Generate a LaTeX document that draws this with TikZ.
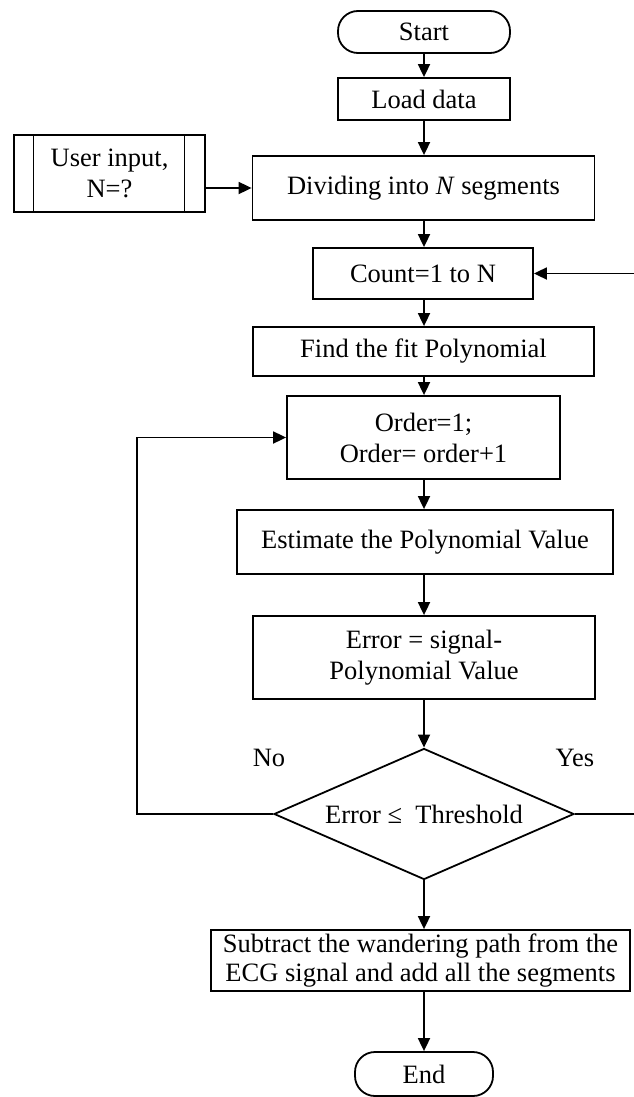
\documentclass[tikz,border=0pt]{standalone}
\usepackage{fontspec}
\setmainfont{Liberation Serif}
\usetikzlibrary{shapes.geometric,arrows.meta}

\begin{document}
\begin{tikzpicture}
			[
				x=10pt, y=-10pt,
				font=\fontsize{26.5}{31}\selectfont,
				align=center,
				line width=1.8pt,
				box/.style={draw, rectangle, inner sep=0pt},
				term/.style={draw, rectangle, rounded corners=20pt, inner sep=0pt, minimum width=172pt, minimum height=42pt},
				decision/.style={draw, diamond, aspect=2.3, inner sep=0pt, minimum width=300pt, minimum height=131pt},
				branchlabel/.style={draw=none, fill=none},
				arrow/.style={-{Triangle[length=13pt,width=12pt]}, line width=1.8pt}
			]

			\useasboundingbox (0,0) rectangle (63.3,109.7);

			% blocks
			\node[term] (start) at ( 42.4,   3.2 ) {Start};
			\node[box, minimum width=172pt, minimum height=42pt] (load) at ( 42.4,   9.9 ) {Load data};
			\node[box, minimum width=342pt, minimum height=64pt] (divide) at ( 42.35, 18.8 ) {Dividing into \textit{N} segments};
			\node[box, minimum width=191pt, minimum height=77pt] (user) at ( 10.95, 17.35) {User input,\\N=?};
			\node[box, minimum width=220pt, minimum height=51pt] (count) at ( 42.3,  27.35) {Count=1 to N};
			\node[box, minimum width=341pt, minimum height=49pt] (fit) at ( 42.35, 35.15) {Find the fit Polynomial};
			\node[box, minimum width=273pt, minimum height=83pt] (order) at ( 42.35, 43.75) {Order=1;\\Order= order+1};
			\node[box, minimum width=376pt, minimum height=64pt] (estimate) at ( 42.5,  54.2 ) {Estimate the Polynomial Value};
			\node[box, minimum width=342pt, minimum height=83pt] (error) at ( 42.4,  65.75) {Error = signal-\\Polynomial Value};
			\node[decision] (check) at ( 42.4,  81.4 ) {Error ≤ \ Threshold};
			\node[box, minimum width=419pt, minimum height=61pt, font=\fontsize{26.5}{29}\selectfont] (subtract) at ( 42.05, 96.05) {Subtract the wandering path from the\\ECG signal and add all the segments};
			\node[term, minimum width=138pt, minimum height=44pt] (stop) at ( 42.4, 107.4 ) {End};

			% side bars of the input block
			\draw[line width=1pt] ([xshift=20pt]user.north west) -- ([xshift=20pt]user.south west);
			\draw[line width=1pt] ([xshift=-21pt]user.north east) -- ([xshift=-21pt]user.south east);

			% branch labels
			\node[branchlabel] (nolabel) at ( 26.9, 75.8 ) {No};
			\node[branchlabel] (yeslabel) at ( 57.5, 75.8 ) {Yes};

			% loop corners
			\coordinate (noline) at ( 13.7, 60.0 );
			\coordinate (yesline) at ( 64.2, 60.0 );

			% paths
			\foreach \from/\to in {start/load,load/divide,divide/count,count/fit,fit/order,order/estimate,estimate/error,error/check,check/subtract,subtract/stop}
			\draw[arrow] (\from.south -| start) -- (\to.north -| start);

			\draw[arrow] (divide.west -| user.east) -- (divide.west);
			\draw[arrow] (check.west) -- (check.west -| noline) |- (order.west);
			\draw[arrow] (check.east) -- (check.east -| yesline) |- (count.east);

		\end{tikzpicture}
\end{document}
